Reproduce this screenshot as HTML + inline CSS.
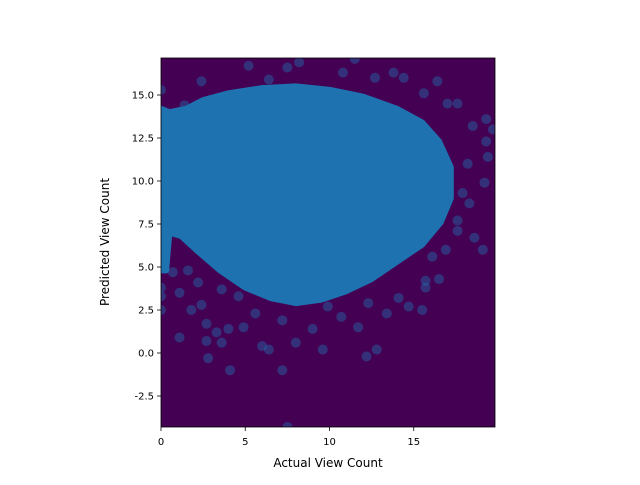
<!DOCTYPE html>
<html><head><meta charset="utf-8"><style>
body{margin:0;background:#fff;font-family:"Liberation Sans","DejaVu Sans",sans-serif;}
svg text{font-family:"DejaVu Sans","Liberation Sans",sans-serif;font-size:10px;fill:#000}
</style></head><body>
<svg id="chart" width="640" height="480" xmlns="http://www.w3.org/2000/svg">
<defs><clipPath id="clip"><rect x="161" y="58" width="334" height="369"/></clipPath></defs>
<rect width="640" height="480" fill="#fff"/>
<rect x="161" y="58" width="334" height="369" fill="#440154"/>
<g clip-path="url(#clip)">
<g id="pts"></g>
<g id="core"></g>
</g>
<rect x="161" y="58" width="334" height="369" fill="none" stroke="#000" stroke-width="0.8"/>
<g id="xt"></g>
<g id="yt"></g>
<text x="328" y="467" text-anchor="middle" style="font-size:12px">Actual View Count</text>
<text transform="translate(109,242) rotate(-90)" text-anchor="middle" style="font-size:12px">Predicted View Count</text>
</svg>
<script>
const xTicks=[0,5,10,15];
const yTicks=[-2.5,0,2.5,5,7.5,10,12.5,15];
const coreX=[0,0.5,1.5,2.5,4,6,8,10,12,14,15.5,16.5,17.2,17.2,16.6,15.5,14,12.5,11,9.5,8,6.5,5,3.5,2.2,1.2,0.5,0.3,0];
const coreY=[14.2,14.0,14.2,14.7,15.1,15.4,15.5,15.3,14.9,14.2,13.4,12.3,10.8,9.0,7.6,6.3,5.3,4.3,3.6,3.1,2.9,3.2,3.8,4.8,5.9,6.8,7.0,4.8,4.8];
const ptX=[5.2,8.2,11.5,2.4,1.4,13.8,16.4,15.6,17.6,19.3,19.7,19.3,19.4,19.2,17.9,18.6,19.1,17.6,16.5,15.5,14.7,15.7,12.8,12.2,9.6,7.2,7.5,4.1,2.8,1.1,2.7,3.6,6.0,6.4,8.0,9.0,0,0,0,1.1,1.8,2.4,2.7,3.3,4.0,4.9,13.4,14.1,11.7,10.7,9.9,0,6.4,7.5,10.8,12.7,14.4,17.0,18.5,18.2,18.3,17.6,16.9,16.1,15.7,1.6,0.7,2.2,3.6,4.6,5.6,7.2,12.3,0,0,0,0];
const ptY=[16.7,16.9,17.1,15.8,14.4,16.3,15.8,15.1,14.5,13.6,13.0,12.3,11.4,9.9,9.3,6.7,6.0,7.1,4.3,2.5,2.7,3.8,0.2,-0.2,0.2,-1.0,-4.3,-1.0,-0.3,0.9,0.7,0.6,0.4,0.2,0.6,1.4,2.5,3.8,3.3,3.5,2.5,2.8,1.7,1.2,1.4,1.5,2.3,3.2,1.5,2.1,2.7,15.3,15.9,16.6,16.3,16.0,16.0,14.5,13.2,11.0,8.7,7.7,6.0,5.6,4.2,4.8,4.7,4.1,3.7,3.3,2.3,1.9,2.9,13.5,11,8,6];
const X0=161,PX=16.85,Y0=353,PY=17.2;
const sx=v=>X0+v*PX, sy=v=>Y0-v*PY;
const NS="http://www.w3.org/2000/svg";
const core=document.getElementById('core');
let d='';
coreX.forEach((v,i)=>{d+=(i?'L':'M')+sx(v).toFixed(1)+' '+sy(coreY[i]).toFixed(1);});
const p=document.createElementNS(NS,'path');
p.setAttribute('d',d+'Z');p.setAttribute('fill','#1f72b0');p.setAttribute('stroke','#1f72b0');p.setAttribute('stroke-width','6');p.setAttribute('stroke-linejoin','round');


core.appendChild(p);
const g=document.getElementById('pts');
ptX.forEach((v,i)=>{
 const c=document.createElementNS(NS,'circle');
 c.setAttribute('cx',sx(v));c.setAttribute('cy',sy(ptY[i]));c.setAttribute('r',5);
 c.setAttribute('fill','#1f77b4');c.setAttribute('fill-opacity','0.4');
 
 
 g.appendChild(c);
});
const xt=document.getElementById('xt');
xTicks.forEach(v=>{
 const l=document.createElementNS(NS,'line');
 l.setAttribute('x1',sx(v));l.setAttribute('x2',sx(v));l.setAttribute('y1',427);l.setAttribute('y2',431);l.setAttribute('stroke','#000');l.setAttribute('stroke-width','0.8');
 
 
 xt.appendChild(l);
 const t=document.createElementNS(NS,'text');
 t.setAttribute('x',sx(v));t.setAttribute('y',445);t.setAttribute('text-anchor','middle');t.textContent=v;
 
 
 xt.appendChild(t);
});
const yt=document.getElementById('yt');
yTicks.forEach(v=>{
 const l=document.createElementNS(NS,'line');
 l.setAttribute('x1',157);l.setAttribute('x2',161);l.setAttribute('y1',sy(v));l.setAttribute('y2',sy(v));l.setAttribute('stroke','#000');l.setAttribute('stroke-width','0.8');
 
 
 yt.appendChild(l);
 const t=document.createElementNS(NS,'text');
 t.setAttribute('x',154);t.setAttribute('y',sy(v)+3.5);t.setAttribute('text-anchor','end');t.textContent=v.toFixed(1);
 
 
 yt.appendChild(t);
});
</script>
</body></html>
